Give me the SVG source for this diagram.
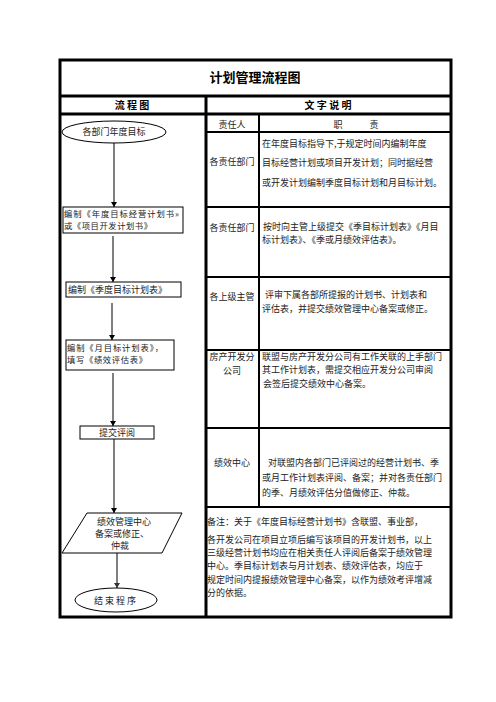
<svg xmlns="http://www.w3.org/2000/svg" width="496" height="702" viewBox="0 0 496 702">
<style>
.t{font-family:"Noto Sans CJK SC","Noto Sans",sans-serif;font-size:9px;fill:#222}
.s{font-size:8.3px}
.b{font-family:"Noto Sans CJK SC","Noto Sans",sans-serif;font-weight:bold;fill:#000}
.frame{fill:none;stroke:#000;stroke-width:3}
.row{fill:none;stroke:#000;stroke-width:2}
.shape{fill:#fff;stroke:#000;stroke-width:1}
.conn{stroke:#000;stroke-width:1;fill:none}
</style>
<defs>
<marker id="ah" markerUnits="userSpaceOnUse" markerWidth="6" markerHeight="7" refX="5" refY="3" orient="auto">
<path d="M0,0 L5,3 L0,6 z" fill="#000"/>
</marker>
<marker id="ahg" markerUnits="userSpaceOnUse" markerWidth="6" markerHeight="7" refX="5" refY="3" orient="auto">
<path d="M0,0 L5,3 L0,6 z" fill="#333"/>
</marker>
</defs>
<rect width="496" height="702" fill="#fff"/>

<g id="table">
<rect class="frame" x="60" y="60" width="391" height="557"/>
<line class="frame" x1="60" y1="96" x2="451" y2="96"/>
<line class="frame" x1="60" y1="114" x2="451" y2="114"/>
<line class="frame" x1="206" y1="96" x2="206" y2="617"/>
<line class="row" x1="259" y1="114" x2="259" y2="507"/>
<line class="row" x1="206" y1="132" x2="451" y2="132"/>
<line class="row" x1="206" y1="207" x2="451" y2="207"/>
<line class="row" x1="206" y1="277" x2="451" y2="277"/>
<line class="row" x1="206" y1="350" x2="451" y2="350"/>
<line class="row" x1="206" y1="428" x2="451" y2="428"/>
<line class="row" x1="206" y1="507" x2="451" y2="507"/>
<text class="b" x="255" y="82" font-size="13" text-anchor="middle">计划管理流程图</text>
<text class="b" x="132" y="109" font-size="10" text-anchor="middle">流 程 图</text>
<text class="b" x="328" y="109" font-size="10" text-anchor="middle">文 字 说 明</text>
</g>

<g id="text-cells">
<text class="t" x="232" y="128" text-anchor="middle">责任人</text>
<text class="t" x="356" y="128" text-anchor="middle">职　　　责</text>

<text class="t" x="232" y="165" text-anchor="middle">各责任部门</text>
<text class="t" x="262" y="147">在年度目标指导下,于规定时间内编制年度</text>
<text class="t" x="262" y="166">目标经营计划或项目开发计划；同时据经营</text>
<text class="t" x="262" y="186">或开发计划编制季度目标计划和月目标计划。</text>

<text class="t" x="232" y="231" text-anchor="middle">各责任部门</text>
<text class="t" x="263" y="230">按时向主管上级提交《季目标计划表》《月目</text>
<text class="t" x="262" y="243">标计划表》、《季或月绩效评估表》。</text>

<text class="t" x="232" y="300" text-anchor="middle">各上级主管</text>
<text class="t" x="265" y="298">评审下属各部所提报的计划书、计划表和</text>
<text class="t" x="262" y="312">评估表，并提交绩效管理中心备案或修正。</text>

<text class="t" x="232" y="360" text-anchor="middle">房产开发分</text>
<text class="t" x="232" y="374" text-anchor="middle">公司</text>
<text class="t" x="262" y="360">联盟与房产开发分公司有工作关联的上手部门</text>
<text class="t" x="262" y="373">其工作计划表，需提交相应开发分公司审阅</text>
<text class="t" x="263" y="387">会签后提交绩效中心备案。</text>

<text class="t" x="232" y="466" text-anchor="middle">绩效中心</text>
<text class="t" x="268" y="466">对联盟内各部门已评阅过的经营计划书、季</text>
<text class="t" x="262" y="481">或月工作计划表评阅、备案；并对各责任部门</text>
<text class="t" x="262" y="496">的季、月绩效评估分值做修正、仲裁。</text>

<text class="t" x="207" y="525" font-size="9.6">备注：关于《年度目标经营计划书》含联盟、事业部，</text>
<text class="t" x="207" y="543" font-size="9.8">各开发公司在项目立项后编写该项目的开发计划书，以上</text>
<text class="t" x="207" y="556" font-size="9.8">三级经营计划书均应在相关责任人评阅后备案于绩效管理</text>
<text class="t" x="207" y="569" font-size="9.8">中心。季目标计划表与月计划表、绩效评估表，均应于</text>
<text class="t" x="207" y="583" font-size="9.8">规定时间内提报绩效管理中心备案，以作为绩效考评增减</text>
<text class="t" x="207" y="596" font-size="9.8">分的依据。</text>
</g>

<g id="connectors">
<line class="conn" x1="114" y1="143" x2="114" y2="207" marker-end="url(#ah)"/>
<line class="conn" x1="113" y1="236" x2="113" y2="282" marker-end="url(#ah)"/>
<line class="conn" x1="112" y1="303" x2="112" y2="340" marker-end="url(#ah)"/>
<line class="conn" x1="113" y1="373" x2="113" y2="426" marker-end="url(#ah)"/>
<line class="conn" x1="114" y1="439" x2="114" y2="513" marker-end="url(#ah)"/>
<line class="conn" x1="117" y1="553" x2="117" y2="588" stroke="#333" stroke-width="2" marker-end="url(#ahg)"/>
</g>

<g id="n-start">
<ellipse class="shape" cx="114" cy="132" rx="52" ry="11"/>
<text class="t" x="114" y="135" text-anchor="middle" font-size="9.4">各部门年度目标</text>
</g>
<g id="n-annual">
<rect class="shape" x="63" y="207" width="120" height="26"/>
<text class="t s" x="64" y="216.5" textLength="115" lengthAdjust="spacing">编制《年度目标经营计划书»</text>
<text class="t s" x="64" y="228.5" textLength="88" lengthAdjust="spacing">或《项目开发计划书》</text>
</g>
<g id="n-quarter">
<rect class="shape" x="66" y="282" width="115" height="15"/>
<text class="t" x="68" y="293">编制《季度目标计划表》</text>
</g>
<g id="n-month">
<rect class="shape" x="66" y="340" width="108" height="30"/>
<text class="t s" x="67" y="350.5" textLength="96" lengthAdjust="spacing">编制《月目标计划表》，</text>
<text class="t s" x="67" y="362.5" textLength="80" lengthAdjust="spacing">填写《绩效评估表》</text>
</g>
<g id="n-submit">
<rect class="shape" x="80" y="426" width="74" height="13"/>
<text class="t" x="117" y="435.5" text-anchor="middle">提交评阅</text>
</g>
<g id="n-center">
<polygon class="shape" points="87,513 182,513 162,553 62,553" stroke="#444"/>
<text class="t" x="124" y="525" text-anchor="middle">绩效管理中心</text>
<text class="t" x="122" y="537" text-anchor="middle">备案或修正、</text>
<text class="t" x="120" y="549" text-anchor="middle">仲裁</text>
</g>
<g id="n-end">
<ellipse class="shape" cx="116" cy="600" rx="41" ry="12"/>
<text class="t" x="116" y="604" text-anchor="middle" font-size="9.5" letter-spacing="2">结束程序</text>
</g>
</svg>
